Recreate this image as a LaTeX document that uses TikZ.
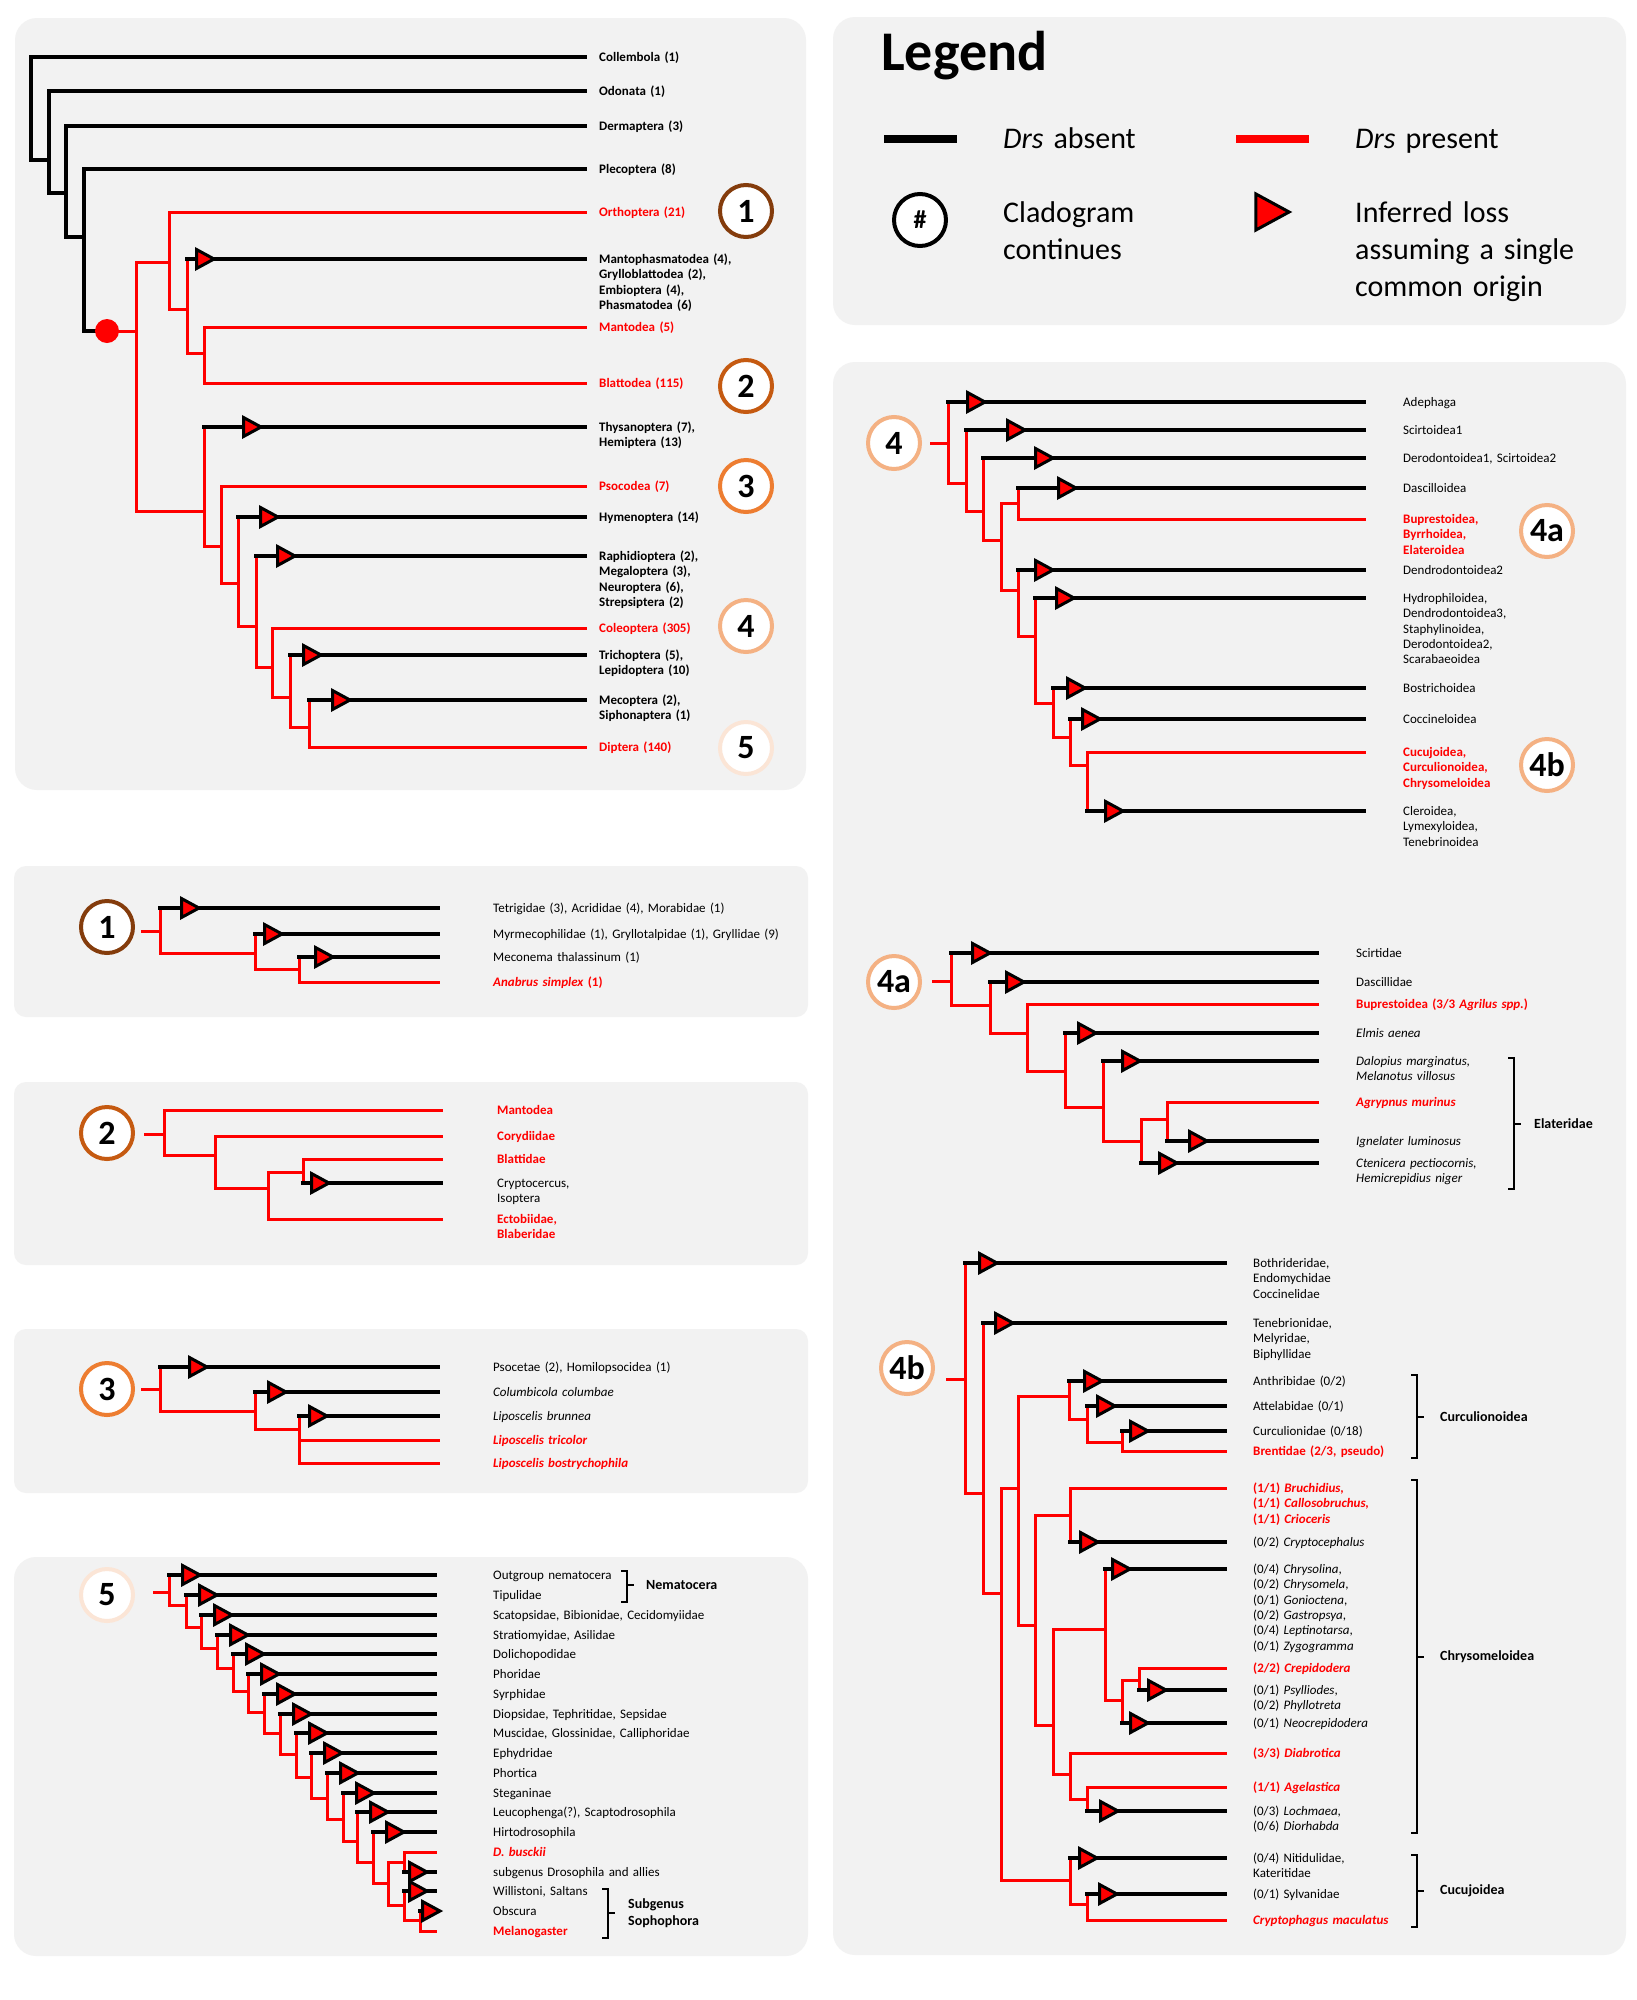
\documentclass[tikz,border=0pt]{standalone}
\usepackage{fontspec}
\setmainfont{Carlito}
\usepackage{xcolor}
\usepackage{tikz}

\definecolor{panelgray}{HTML}{F2F2F2}
\definecolor{drsred}{HTML}{FF0000}
\definecolor{bdgA}{HTML}{843C0C}
\definecolor{bdgB}{HTML}{C55A11}
\definecolor{bdgC}{HTML}{ED7D31}
\definecolor{bdgD}{HTML}{F4B183}
\definecolor{bdgE}{HTML}{FBE5D6}

\begin{document}
\begin{tikzpicture}[
  x=1pt, y=-1pt,
  absent/.style={draw=black, line width=3.2pt, line cap=rect},   % Drs absent
  present/.style={draw=drsred, line width=3pt, line cap=rect},   % Drs present
  lab/.style={anchor=base west, inner sep=0pt, align=left, text width=300pt, yshift=-4.5pt,
              font=\fontsize{13}{15.3}\selectfont},
  labB/.style={lab, font=\fontsize{13}{15.3}\selectfont\bfseries},
  labR/.style={labB, text=drsred},
  badge/.style={circle, draw=#1, fill=white, line width=4pt, minimum size=52pt,
                inner sep=0pt, font=\fontsize{34}{34}\selectfont\bfseries},
  panel/.style={fill=panelgray, rounded corners=#1},
  brk/.style={draw=black, line width=2pt},
  brklab/.style={anchor=west, inner sep=0pt, align=left,
                 font=\fontsize{14}{17}\selectfont\bfseries},
  dot/.style={circle, fill=drsred, minimum size=24pt, inner sep=0pt},
  lgtxt/.style={anchor=base west, inner sep=0pt, align=left, text width=260pt,
                font=\fontsize{30}{37}\selectfont},
  lossfill/.style={fill=drsred, draw=black, line width=3pt, line join=miter},
  loss/.pic={\filldraw[lossfill] (1.5,-9.5) -- (19,0) -- (1.5,9.5) -- cycle;}
]
\useasboundingbox (0,0) rectangle (1636,2000);
\fill[white] (0,0) rectangle (1636,2000);

% panels
\fill[panel=22pt] (15,18) rectangle (806,790);
\fill[panel=22pt] (833,17) rectangle (1626,325);
\fill[panel=22pt] (833,362) rectangle (1626,1955);
\fill[panel=12pt] (14,866) rectangle (808,1017);
\fill[panel=12pt] (14,1082) rectangle (808,1265);
\fill[panel=12pt] (14,1329) rectangle (808,1493);
\fill[panel=22pt] (14,1557) rectangle (808,1956);

%%%%%%%%%%%%%%%% main tree
\coordinate (eT) at (585,0);
\coordinate (tT) at (599,0);
\coordinate (Col) at (31,57);
\coordinate (Odo) at (49,91);
\coordinate (Der) at (66,126);
\coordinate (Ple) at (84,169);
\coordinate (Ort) at (169,212);
\coordinate (Mph) at (187,259);
\coordinate (Mtd) at (204,327);
\coordinate (Bla) at (204,383);
\coordinate (Thy) at (204,427);
\coordinate (Pso) at (221,486);
\coordinate (Hym) at (238,517);
\coordinate (Rap) at (256,556);
\coordinate (Cleo) at (272,628);
\coordinate (Tri) at (290,655);
\coordinate (Mec) at (309,700);
\coordinate (Dip) at (309,747);
\coordinate (j1) at (31,160);
\coordinate (j2) at (49,193);
\coordinate (j3) at (66,237);
\coordinate (j4) at (84,331);
\coordinate (root) at (107,331);
\coordinate (rA) at (136,262);
\coordinate (rB) at (136,511);
\coordinate (j5) at (169,309);
\coordinate (j6) at (187,353);
\coordinate (j7) at (204,546);
\coordinate (j8) at (221,583);
\coordinate (j9) at (238,626);
\coordinate (j10) at (256,667);
\coordinate (j11) at (272,697);
\coordinate (j12) at (290,727);

\draw[absent] (Col) -- (j1) -- (j1 -| Odo);
\draw[absent] (Odo) -- (j2) -- (j2 -| Der);
\draw[absent] (Der) -- (j3) -- (j3 -| Ple);
\draw[absent] (Ple) -- (j4) -- (root);
\draw[present] (root) -- (root -| rA);
\draw[present] (rA -| Ort) -- (rA) -- (rB) -- (rB -| Thy);
\draw[present] (Ort) -- (j5) -- (j5 -| Mph);
\draw[present] (Mph) -- (j6) -- (j6 -| Mtd);
\draw[present] (Mtd) -- (Bla);
\draw[present] (Thy) -- (j7) -- (j7 -| Pso);
\draw[present] (Pso) -- (j8) -- (j8 -| Hym);
\draw[present] (Hym) -- (j9) -- (j9 -| Rap);
\draw[present] (Rap) -- (j10) -- (j10 -| Cleo);
\draw[present] (Cleo) -- (j11) -- (j11 -| Tri);
\draw[present] (Tri) -- (j12) -- (j12 -| Mec);
\draw[present] (Mec) -- (Dip);

\draw[absent] (Col) -- (Col -| eT);
\draw[absent] (Odo) -- (Odo -| eT);
\draw[absent] (Der) -- (Der -| eT);
\draw[absent] (Ple) -- (Ple -| eT);
\draw[present] (Ort) -- (Ort -| eT);
\draw[absent] (Mph) -- (Mph -| eT);
\draw[present] (Mtd) -- (Mtd -| eT);
\draw[present] (Bla) -- (Bla -| eT);
\draw[absent] (Thy) -- (Thy -| eT);
\draw[present] (Pso) -- (Pso -| eT);
\draw[absent] (Hym) -- (Hym -| eT);
\draw[absent] (Rap) -- (Rap -| eT);
\draw[present] (Cleo) -- (Cleo -| eT);
\draw[absent] (Tri) -- (Tri -| eT);
\draw[absent] (Mec) -- (Mec -| eT);
\draw[present] (Dip) -- (Dip -| eT);

\node[dot] (dotT) at (root) {};
\path (Mph) ++(8,0) pic{loss};
\path (Thy) ++(38,0) pic{loss};
\path (Hym) ++(21,0) pic{loss};
\path (Rap) ++(20,0) pic{loss};
\path (Tri) ++(12,0) pic{loss};
\path (Mec) ++(22,0) pic{loss};

\node[labB] (lCol) at (Col -| tT) {Collembola (1)};
\node[labB] (lOdo) at (Odo -| tT) {Odonata (1)};
\node[labB] (lDer) at (Der -| tT) {Dermaptera (3)};
\node[labB] (lPle) at (Ple -| tT) {Plecoptera (8)};
\node[labR] (lOrt) at (Ort -| tT) {Orthoptera (21)};
\node[labB] (lMph) at (Mph -| tT) {Mantophasmatodea (4),\\Grylloblattodea (2),\\Embioptera (4),\\Phasmatodea (6)};
\node[labR] (lMtd) at (Mtd -| tT) {Mantodea (5)};
\node[labR] (lBla) at (Bla -| tT) {Blattodea (115)};
\node[labB] (lThy) at (Thy -| tT) {Thysanoptera (7),\\Hemiptera (13)};
\node[labR] (lPso) at (Pso -| tT) {Psocodea (7)};
\node[labB] (lHym) at (Hym -| tT) {Hymenoptera (14)};
\node[labB] (lRap) at (Rap -| tT) {Raphidioptera (2),\\Megaloptera (3),\\Neuroptera (6),\\Strepsiptera (2)};
\node[labR] (lCleo) at (Cleo -| tT) {Coleoptera (305)};
\node[labB] (lTri) at (Tri -| tT) {Trichoptera (5),\\Lepidoptera (10)};
\node[labB] (lMec) at (Mec -| tT) {Mecoptera (2),\\Siphonaptera (1)};
\node[labR] (lDip) at (Dip -| tT) {Diptera (140)};

\node[badge=bdgA] (bT1) at (746,211) {1};
\node[badge=bdgB] (bT2) at (746,386) {2};
\node[badge=bdgC] (bT3) at (746,486) {3};
\node[badge=bdgD] (bT4) at (746,626) {4};
\node[badge=bdgE] (bT5) at (746,748) {5};

%%%%%%%%%%%%%%%% legend
\node[anchor=base west, inner sep=0pt, font=\fontsize{56}{56}\selectfont\bfseries] (lgHead) at (881,70) {Legend};
\coordinate (lgA1) at (884,139);
\coordinate (lgA2) at (957,139);
\coordinate (lgP1) at (1236,139);
\coordinate (lgP2) at (1309,139);
\draw[absent, line width=8pt, line cap=butt] (lgA1) -- (lgA2);
\draw[present, line width=8pt, line cap=butt] (lgP1) -- (lgP2);
\node[lgtxt] (lgAbs) at (1003,148) {\textit{Drs} absent};
\node[lgtxt] (lgPre) at (1355,148) {\textit{Drs} present};
\node[badge=black, font=\fontsize{26}{26}\selectfont\bfseries] (lgBadge) at (920,220) {\#};
\node[lgtxt] (lgCont) at (1003,222) {Cladogram\\continues};
\path (1253,212) pic[scale=1.9]{loss};
\node[lgtxt] (lgLoss) at (1355,222) {Inferred loss\\assuming a single\\common origin};

%%%%%%%%%%%%%%%% clade 4
\coordinate (e4) at (1364,0);
\coordinate (t4) at (1403,0);
\coordinate (Ade) at (948,402);
\coordinate (Sci) at (966,430);
\coordinate (Drd) at (983,458);
\coordinate (Das) at (1018,488);
\coordinate (Bup) at (1018,519);
\coordinate (Dnd) at (1018,570);
\coordinate (Hyd) at (1035,598);
\coordinate (Bos) at (1053,688);
\coordinate (Coc) at (1070,719);
\coordinate (Cuc) at (1087,752);
\coordinate (Cle) at (1087,811);
\coordinate (k1) at (948,483);
\coordinate (k2) at (966,511);
\coordinate (k3) at (983,540);
\coordinate (k4a) at (1001,503);
\coordinate (k4b) at (1001,590);
\coordinate (k5) at (1018,636);
\coordinate (k6) at (1035,703);
\coordinate (k7) at (1053,737);
\coordinate (k8) at (1070,765);
\coordinate (st4) at (931,443);

\draw[present] (st4) -- (st4 -| Ade);
\draw[present] (Ade) -- (k1) -- (k1 -| Sci);
\draw[present] (Sci) -- (k2) -- (k2 -| Drd);
\draw[present] (Drd) -- (k3) -- (k3 -| k4a);
\draw[present] (k4a -| Das) -- (k4a) -- (k4b) -- (k4b -| Dnd);
\draw[present] (Das) -- (Bup);
\draw[present] (Dnd) -- (k5) -- (k5 -| Hyd);
\draw[present] (Hyd) -- (k6) -- (k6 -| Bos);
\draw[present] (Bos) -- (k7) -- (k7 -| Coc);
\draw[present] (Coc) -- (k8) -- (k8 -| Cuc);
\draw[present] (Cuc) -- (Cle);

\draw[absent] (Ade) -- (Ade -| e4);
\draw[absent] (Sci) -- (Sci -| e4);
\draw[absent] (Drd) -- (Drd -| e4);
\draw[absent] (Das) -- (Das -| e4);
\draw[present] (Bup) -- (Bup -| e4);
\draw[absent] (Dnd) -- (Dnd -| e4);
\draw[absent] (Hyd) -- (Hyd -| e4);
\draw[absent] (Bos) -- (Bos -| e4);
\draw[absent] (Coc) -- (Coc -| e4);
\draw[present] (Cuc) -- (Cuc -| e4);
\draw[absent] (Cle) -- (Cle -| e4);

\path (Ade) ++(18,0) pic{loss};
\path (Sci) ++(40,0) pic{loss};
\path (Drd) ++(51,0) pic{loss};
\path (Das) ++(39,0) pic{loss};
\path (Dnd) ++(16,0) pic{loss};
\path (Hyd) ++(20,0) pic{loss};
\path (Bos) ++(13,0) pic{loss};
\path (Coc) ++(11,0) pic{loss};
\path (Cle) ++(17,0) pic{loss};

\node[lab] (lAde) at (Ade -| t4) {Adephaga};
\node[lab] (lSci) at (Sci -| t4) {Scirtoidea1};
\node[lab] (lDrd) at (Drd -| t4) {Derodontoidea1, Scirtoidea2};
\node[lab] (lDas) at (Das -| t4) {Dascilloidea};
\node[labR] (lBup) at (Bup -| t4) {Buprestoidea,\\Byrrhoidea,\\Elateroidea};
\node[lab] (lDnd) at (Dnd -| t4) {Dendrodontoidea2};
\node[lab] (lHyd) at (Hyd -| t4) {Hydrophiloidea,\\Dendrodontoidea3,\\Staphylinoidea,\\Derodontoidea2,\\Scarabaeoidea};
\node[lab] (lBos) at (Bos -| t4) {Bostrichoidea};
\node[lab] (lCoc) at (Coc -| t4) {Coccineloidea};
\node[labR] (lCuc) at (Cuc -| t4) {Cucujoidea,\\Curculionoidea,\\Chrysomeloidea};
\node[lab] (lCle) at (Cle -| t4) {Cleroidea,\\Lymexyloidea,\\Tenebrinoidea};

\node[badge=bdgD] (c4) at (894,443) {4};
\node[badge=bdgD] (c4a) at (1547,531) {4a};
\node[badge=bdgD] (c4b) at (1547,765) {4b};

%%%%%%%%%%%%%%%% clade 4a
\coordinate (e4a) at (1317,0);
\coordinate (t4a) at (1356,0);
\coordinate (Sct) at (951,953);
\coordinate (Dsc) at (990,982);
\coordinate (Bpr) at (1027,1004);
\coordinate (Elm) at (1065,1033);
\coordinate (Dal) at (1103,1061);
\coordinate (Agr) at (1167,1102);
\coordinate (Ign) at (1167,1141);
\coordinate (Cte) at (1141,1163);
\coordinate (a1) at (951,1005);
\coordinate (a2) at (990,1033);
\coordinate (a3) at (1027,1071);
\coordinate (a4) at (1065,1107);
\coordinate (a5) at (1103,1141);
\coordinate (a6) at (1141,1119);
\coordinate (st4a) at (933,981);

\draw[present] (st4a) -- (st4a -| Sct);
\draw[present] (Sct) -- (a1) -- (a1 -| Dsc);
\draw[present] (Dsc) -- (a2) -- (a2 -| Bpr);
\draw[present] (Bpr) -- (a3) -- (a3 -| Elm);
\draw[present] (Elm) -- (a4) -- (a4 -| Dal);
\draw[present] (Dal) -- (a5) -- (a5 -| Cte);
\draw[present] (a6 -| Agr) -- (a6) -- (Cte);
\draw[present] (Agr) -- (Ign);

\draw[absent] (Sct) -- (Sct -| e4a);
\draw[absent] (Dsc) -- (Dsc -| e4a);
\draw[present] (Bpr) -- (Bpr -| e4a);
\draw[absent] (Elm) -- (Elm -| e4a);
\draw[absent] (Dal) -- (Dal -| e4a);
\draw[present] (Agr) -- (Agr -| e4a);
\draw[absent] (Ign) -- (Ign -| e4a);
\draw[absent] (Cte) -- (Cte -| e4a);

\path (Sct) ++(20,0) pic{loss};
\path (Dsc) ++(15,0) pic{loss};
\path (Elm) ++(12,0) pic{loss};
\path (Dal) ++(18,0) pic{loss};
\path (Ign) ++(21,0) pic{loss};
\path (Cte) ++(17,0) pic{loss};

\node[lab] (lSct) at (Sct -| t4a) {Scirtidae};
\node[lab] (lDsc) at (Dsc -| t4a) {Dascillidae};
\node[labR] (lBpr) at (Bpr -| t4a) {Buprestoidea (3/3 \textit{Agrilus spp.})};
\node[lab] (lElm) at (Elm -| t4a) {\textit{Elmis aenea}};
\node[lab] (lDal) at (Dal -| t4a) {\textit{Dalopius marginatus,}\\\textit{Melanotus villosus}};
\node[labR] (lAgr) at (Agr -| t4a) {\textit{Agrypnus murinus}};
\node[lab] (lIgn) at (Ign -| t4a) {\textit{Ignelater luminosus}};
\node[lab] (lCte) at (Cte -| t4a) {\textit{Ctenicera pectiocornis,}\\\textit{Hemicrepidius niger}};

\coordinate (elT) at (1514,1058);
\coordinate (elB) at (1514,1189);
\coordinate (elM) at (1514,1124);
\draw[brk] (elT) ++(-6,0) -- (elT) -- (elB) -- ++(-6,0);
\draw[brk] (elM) -- ++(7,0);
\node[brklab] (lEla) at ([xshift=20pt]elM) {Elateridae};

\node[badge=bdgD] (c4a2) at (894,982) {4a};

%%%%%%%%%%%%%%%% clade 4b
\coordinate (e4b) at (1225,0);
\coordinate (t4b) at (1253,0);
\coordinate (Bot) at (965,1263);
\coordinate (Ten) at (983,1323);
\coordinate (Ant) at (1069,1381);
\coordinate (Att) at (1087,1406);
\coordinate (Cur) at (1122,1431);
\coordinate (Bre) at (1122,1451);
\coordinate (Bru) at (1070,1488);
\coordinate (Cry) at (1070,1542);
\coordinate (Chr) at (1105,1569);
\coordinate (Cre) at (1139,1668);
\coordinate (Psy) at (1139,1690);
\coordinate (Neo) at (1122,1723);
\coordinate (Dia) at (1070,1753);
\coordinate (Age) at (1087,1787);
\coordinate (Loc) at (1087,1811);
\coordinate (Nit) at (1070,1858);
\coordinate (Syl) at (1087,1894);
\coordinate (Crp) at (1087,1920);
\coordinate (b1) at (965,1493);
\coordinate (b2) at (983,1593);
\coordinate (b3) at (1001,1488);
\coordinate (b4) at (1001,1880);
\coordinate (b5) at (1018,1396);
\coordinate (b6) at (1018,1625);
\coordinate (b7) at (1069,1419);
\coordinate (b8) at (1087,1442);
\coordinate (b9) at (1035,1515);
\coordinate (b10) at (1035,1725);
\coordinate (b11) at (1053,1629);
\coordinate (b12) at (1053,1774);
\coordinate (b13) at (1105,1700);
\coordinate (b14) at (1122,1680);
\coordinate (b15) at (1070,1799);
\coordinate (b16) at (1070,1904);
\coordinate (st4b) at (947,1379);

\draw[present] (st4b) -- (st4b -| Bot);
\draw[present] (Bot) -- (b1) -- (b1 -| Ten);
\draw[present] (Ten) -- (b2) -- (b2 -| b3);
\draw[present] (b3) -- (b4) -- (b4 -| Nit);
\draw[present] (b3) -- (b3 -| b5);
\draw[present] (b5 -| Ant) -- (b5) -- (b6) -- (b6 -| b9);
\draw[present] (Ant) -- (b7) -- (b7 -| Att);
\draw[present] (Att) -- (b8) -- (b8 -| Cur);
\draw[present] (Cur) -- (Bre);
\draw[present] (b9 -| Bru) -- (b9) -- (b10) -- (b10 -| b11);
\draw[present] (Bru) -- (Cry);
\draw[present] (b11 -| Chr) -- (b11) -- (b12) -- (b12 -| Dia);
\draw[present] (Chr) -- (b13) -- (b13 -| Neo);
\draw[present] (b14 -| Cre) -- (b14) -- (Neo);
\draw[present] (Cre) -- (Psy);
\draw[present] (Dia) -- (b15) -- (b15 -| Age);
\draw[present] (Age) -- (Loc);
\draw[present] (Nit) -- (b16) -- (b16 -| Syl);
\draw[present] (Syl) -- (Crp);

\draw[absent] (Bot) -- (Bot -| e4b);
\draw[absent] (Ten) -- (Ten -| e4b);
\draw[absent] (Ant) -- (Ant -| e4b);
\draw[absent] (Att) -- (Att -| e4b);
\draw[absent] (Cur) -- (Cur -| e4b);
\draw[present] (Bre) -- (Bre -| e4b);
\draw[present] (Bru) -- (Bru -| e4b);
\draw[absent] (Cry) -- (Cry -| e4b);
\draw[absent] (Chr) -- (Chr -| e4b);
\draw[present] (Cre) -- (Cre -| e4b);
\draw[absent] (Psy) -- (Psy -| e4b);
\draw[absent] (Neo) -- (Neo -| e4b);
\draw[present] (Dia) -- (Dia -| e4b);
\draw[present] (Age) -- (Age -| e4b);
\draw[absent] (Loc) -- (Loc -| e4b);
\draw[absent] (Nit) -- (Nit -| e4b);
\draw[absent] (Syl) -- (Syl -| e4b);
\draw[present] (Crp) -- (Crp -| e4b);

\path (Bot) ++(13,0) pic{loss};
\path (Ten) ++(11,0) pic{loss};
\path (Ant) ++(14,0) pic{loss};
\path (Att) ++(9,0) pic{loss};
\path (Cur) ++(7,0) pic{loss};
\path (Cry) ++(9,0) pic{loss};
\path (Chr) ++(6,0) pic{loss};
\path (Psy) ++(8,0) pic{loss};
\path (Neo) ++(7,0) pic{loss};
\path (Loc) ++(12,0) pic{loss};
\path (Nit) ++(8,0) pic{loss};
\path (Syl) ++(11,0) pic{loss};

\node[lab] (lBot) at (Bot -| t4b) {Bothrideridae,\\Endomychidae\\Coccinelidae};
\node[lab] (lTen) at (Ten -| t4b) {Tenebrionidae,\\Melyridae,\\Biphyllidae};
\node[lab] (lAnt) at (Ant -| t4b) {Anthribidae (0/2)};
\node[lab] (lAtt) at (Att -| t4b) {Attelabidae (0/1)};
\node[lab] (lCur) at (Cur -| t4b) {Curculionidae (0/18)};
\node[labR] (lBre) at (Bre -| t4b) {Brentidae (2/3, pseudo)};
\node[labR] (lBru) at (Bru -| t4b) {(1/1) \textit{Bruchidius,}\\(1/1) \textit{Callosobruchus,}\\(1/1) \textit{Crioceris}};
\node[lab] (lCry) at (Cry -| t4b) {(0/2) \textit{Cryptocephalus}};
\node[lab] (lChr) at (Chr -| t4b) {(0/4) \textit{Chrysolina},\\(0/2) \textit{Chrysomela},\\(0/1) \textit{Gonioctena},\\(0/2) \textit{Gastropsya},\\(0/4) \textit{Leptinotarsa},\\(0/1) \textit{Zygogramma}};
\node[labR] (lCre) at (Cre -| t4b) {(2/2) \textit{Crepidodera}};
\node[lab] (lPsy) at (Psy -| t4b) {(0/1) \textit{Psylliodes},\\(0/2) \textit{Phyllotreta}};
\node[lab] (lNeo) at (Neo -| t4b) {(0/1) \textit{Neocrepidodera}};
\node[labR] (lDia) at (Dia -| t4b) {(3/3) \textit{Diabrotica}};
\node[labR] (lAge) at (Age -| t4b) {(1/1) \textit{Agelastica}};
\node[lab] (lLoc) at (Loc -| t4b) {(0/3) \textit{Lochmaea},\\(0/6) \textit{Diorhabda}};
\node[lab] (lNit) at (Nit -| t4b) {(0/4) Nitidulidae,\\Kateritidae};
\node[lab] (lSyl) at (Syl -| t4b) {(0/1) Sylvanidae};
\node[labR] (lCrp) at (Crp -| t4b) {\textit{Cryptophagus maculatus}};

\coordinate (cuT) at (1417,1375);
\coordinate (cuB) at (1417,1458);
\coordinate (cuM) at (1417,1417);
\coordinate (chT) at (1417,1480);
\coordinate (chB) at (1417,1833);
\coordinate (chM) at (1417,1657);
\coordinate (cjT) at (1417,1855);
\coordinate (cjB) at (1417,1927);
\coordinate (cjM) at (1417,1891);
\draw[brk] (cuT) ++(-6,0) -- (cuT) -- (cuB) -- ++(-6,0);
\draw[brk] (cuM) -- ++(7,0);
\draw[brk] (chT) ++(-6,0) -- (chT) -- (chB) -- ++(-6,0);
\draw[brk] (chM) -- ++(7,0);
\draw[brk] (cjT) ++(-6,0) -- (cjT) -- (cjB) -- ++(-6,0);
\draw[brk] (cjM) -- ++(7,0);
\node[brklab] (lCu) at ([xshift=23pt]cuM) {Curculionoidea};
\node[brklab] (lCh) at ([xshift=23pt]chM) {Chrysomeloidea};
\node[brklab] (lCj) at ([xshift=23pt]cjM) {Cucujoidea};

\node[badge=bdgD] (c4b2) at (907,1368) {4b};

%%%%%%%%%%%%%%%% clade 1
\coordinate (e1) at (438,0);
\coordinate (t1) at (493,0);
\coordinate (Tet) at (160,908);
\coordinate (Myr) at (255,934);
\coordinate (Mcn) at (299,957);
\coordinate (Ana) at (299,982);
\coordinate (p1) at (160,953);
\coordinate (p2) at (255,969);
\coordinate (st1) at (142,931);

\draw[present] (st1) -- (st1 -| Tet);
\draw[present] (Tet) -- (p1) -- (p1 -| Myr);
\draw[present] (Myr) -- (p2) -- (p2 -| Mcn);
\draw[present] (Mcn) -- (Ana);
\draw[absent] (Tet) -- (Tet -| e1);
\draw[absent] (Myr) -- (Myr -| e1);
\draw[absent] (Mcn) -- (Mcn -| e1);
\draw[present] (Ana) -- (Ana -| e1);
\path (Tet) ++(20,0) pic{loss};
\path (Myr) ++(8,0) pic{loss};
\path (Mcn) ++(15,0) pic{loss};
\node[lab] (lTet) at (Tet -| t1) {Tetrigidae (3), Acrididae (4), Morabidae (1)};
\node[lab] (lMyr) at (Myr -| t1) {Myrmecophilidae (1), Gryllotalpidae (1), Gryllidae (9)};
\node[lab] (lMcn) at (Mcn -| t1) {Meconema thalassinum (1)};
\node[labR] (lAna) at (Ana -| t1) {\textit{Anabrus simplex} (1)};
\node[badge=bdgA] (c1) at (107,927) {1};

%%%%%%%%%%%%%%%% clade 2
\coordinate (e2) at (441,0);
\coordinate (t2) at (497,0);
\coordinate (Man) at (164,1110);
\coordinate (Cor) at (215,1136);
\coordinate (Blt) at (303,1159);
\coordinate (Cpc) at (303,1183);
\coordinate (Ect) at (268,1219);
\coordinate (q1) at (164,1155);
\coordinate (q2) at (215,1188);
\coordinate (q3) at (268,1172);
\coordinate (st2) at (145,1134);

\draw[present] (st2) -- (st2 -| Man);
\draw[present] (Man) -- (q1) -- (q1 -| Cor);
\draw[present] (Cor) -- (q2) -- (q2 -| Ect);
\draw[present] (q3 -| Blt) -- (q3) -- (Ect);
\draw[present] (Blt) -- (Cpc);
\draw[present] (Man) -- (Man -| e2);
\draw[present] (Cor) -- (Cor -| e2);
\draw[present] (Blt) -- (Blt -| e2);
\draw[absent] (Cpc) -- (Cpc -| e2);
\draw[present] (Ect) -- (Ect -| e2);
\path (Cpc) ++(7,0) pic{loss};
\node[labR] (lMan) at (Man -| t2) {Mantodea};
\node[labR] (lCor) at (Cor -| t2) {Corydiidae};
\node[labR] (lBlt) at (Blt -| t2) {Blattidae};
\node[lab] (lCpc) at (Cpc -| t2) {Cryptocercus,\\Isoptera};
\node[labR] (lEct) at (Ect -| t2) {Ectobiidae,\\Blaberidae};
\node[badge=bdgB] (c2) at (107,1133) {2};

%%%%%%%%%%%%%%%% clade 3
\coordinate (e3) at (438,0);
\coordinate (t3) at (493,0);
\coordinate (Psc) at (160,1367);
\coordinate (Clm) at (255,1392);
\coordinate (Lbr) at (299,1416);
\coordinate (Ltr) at (299,1440);
\coordinate (Lbo) at (299,1463);
\coordinate (r1) at (160,1411);
\coordinate (r2) at (255,1429);
\coordinate (st3) at (142,1389);

\draw[present] (st3) -- (st3 -| Psc);
\draw[present] (Psc) -- (r1) -- (r1 -| Clm);
\draw[present] (Clm) -- (r2) -- (r2 -| Lbr);
\draw[present] (Lbr) -- (Lbo);
\draw[absent] (Psc) -- (Psc -| e3);
\draw[absent] (Clm) -- (Clm -| e3);
\draw[absent] (Lbr) -- (Lbr -| e3);
\draw[present] (Ltr) -- (Ltr -| e3);
\draw[present] (Lbo) -- (Lbo -| e3);
\path (Psc) ++(28,0) pic{loss};
\path (Clm) ++(12,0) pic{loss};
\path (Lbr) ++(9,0) pic{loss};
\node[lab] (lPsc) at (Psc -| t3) {Psocetae (2), Homilopsocidea (1)};
\node[lab] (lClm) at (Clm -| t3) {\textit{Columbicola columbae}};
\node[lab] (lLbr) at (Lbr -| t3) {\textit{Liposcelis brunnea}};
\node[labR] (lLtr) at (Ltr -| t3) {\textit{Liposcelis tricolor}};
\node[labR] (lLbo) at (Lbo -| t3) {\textit{Liposcelis bostrychophila}};
\node[badge=bdgC] (c3) at (107,1389) {3};

%%%%%%%%%%%%%%%% clade 5
\coordinate (e5) at (435,0);
\coordinate (t5) at (493,0);
\coordinate (f1) at (169,1575);
\coordinate (f2) at (186,1595);
\coordinate (f3) at (201,1615);
\coordinate (f4) at (217,1635);
\coordinate (f5) at (233,1654);
\coordinate (f6) at (248,1674);
\coordinate (f7) at (264,1694);
\coordinate (f8) at (280,1714);
\coordinate (f9) at (296,1733);
\coordinate (f10) at (311,1753);
\coordinate (f11) at (327,1773);
\coordinate (f12) at (343,1793);
\coordinate (f13) at (357,1812);
\coordinate (f14) at (373,1832);
\coordinate (f15) at (404,1852);
\coordinate (f16) at (404,1872);
\coordinate (f17) at (404,1891);
\coordinate (f18) at (420,1911);
\coordinate (f19) at (420,1931);
\coordinate (s1) at (169,1605);
\coordinate (s2) at (186,1627);
\coordinate (s3) at (201,1648);
\coordinate (s4) at (217,1668);
\coordinate (s5) at (233,1691);
\coordinate (s6) at (248,1712);
\coordinate (s7) at (264,1733);
\coordinate (s8) at (280,1754);
\coordinate (s9) at (296,1777);
\coordinate (s10) at (311,1798);
\coordinate (s11) at (327,1819);
\coordinate (s12) at (343,1841);
\coordinate (s13) at (357,1862);
\coordinate (s14) at (373,1883);
\coordinate (v15a) at (388,1862);
\coordinate (v15b) at (388,1905);
\coordinate (w17) at (404,1920);
\coordinate (st5) at (154,1592);

\draw[present] (st5) -- (st5 -| f1);
\draw[present] (f1) -- (s1) -- (s1 -| f2);
\draw[present] (f2) -- (s2) -- (s2 -| f3);
\draw[present] (f3) -- (s3) -- (s3 -| f4);
\draw[present] (f4) -- (s4) -- (s4 -| f5);
\draw[present] (f5) -- (s5) -- (s5 -| f6);
\draw[present] (f6) -- (s6) -- (s6 -| f7);
\draw[present] (f7) -- (s7) -- (s7 -| f8);
\draw[present] (f8) -- (s8) -- (s8 -| f9);
\draw[present] (f9) -- (s9) -- (s9 -| f10);
\draw[present] (f10) -- (s10) -- (s10 -| f11);
\draw[present] (f11) -- (s11) -- (s11 -| f12);
\draw[present] (f12) -- (s12) -- (s12 -| f13);
\draw[present] (f13) -- (s13) -- (s13 -| f14);
\draw[present] (f14) -- (s14) -- (s14 -| v15a);
\draw[present] (v15a -| f15) -- (v15a) -- (v15b) -- (v15b -| f17);
\draw[present] (f15) -- (f16);
\draw[present] (f17) -- (w17) -- (w17 -| f18);
\draw[present] (f18) -- (f19);

\draw[absent] (f1) -- (f1 -| e5);
\draw[absent] (f2) -- (f2 -| e5);
\draw[absent] (f3) -- (f3 -| e5);
\draw[absent] (f4) -- (f4 -| e5);
\draw[absent] (f5) -- (f5 -| e5);
\draw[absent] (f6) -- (f6 -| e5);
\draw[absent] (f7) -- (f7 -| e5);
\draw[absent] (f8) -- (f8 -| e5);
\draw[absent] (f9) -- (f9 -| e5);
\draw[absent] (f10) -- (f10 -| e5);
\draw[absent] (f11) -- (f11 -| e5);
\draw[absent] (f12) -- (f12 -| e5);
\draw[absent] (f13) -- (f13 -| e5);
\draw[absent] (f14) -- (f14 -| e5);
\draw[present] (f15) -- (f15 -| e5);
\draw[absent] (f16) -- (f16 -| e5);
\draw[absent] (f17) -- (f17 -| e5);
\draw[absent] (f18) -- (f18 -| e5);
\draw[present] (f19) -- (f19 -| e5);

\path (f1) ++(12,0) pic{loss};
\path (f2) ++(12,0) pic{loss};
\path (f3) ++(12,0) pic{loss};
\path (f4) ++(12,0) pic{loss};
\path (f5) ++(12,0) pic{loss};
\path (f6) ++(12,0) pic{loss};
\path (f7) ++(12,0) pic{loss};
\path (f8) ++(12,0) pic{loss};
\path (f9) ++(12,0) pic{loss};
\path (f10) ++(12,0) pic{loss};
\path (f11) ++(12,0) pic{loss};
\path (f12) ++(12,0) pic{loss};
\path (f13) ++(12,0) pic{loss};
\path (f14) ++(12,0) pic{loss};
\path (f16) ++(4,0) pic{loss};
\path (f17) ++(4,0) pic{loss};
\path (f18) ++(1,0) pic{loss};

\node[lab] (lf1) at (f1 -| t5) {Outgroup nematocera};
\node[lab] (lf2) at (f2 -| t5) {Tipulidae};
\node[lab] (lf3) at (f3 -| t5) {Scatopsidae, Bibionidae, Cecidomyiidae};
\node[lab] (lf4) at (f4 -| t5) {Stratiomyidae, Asilidae};
\node[lab] (lf5) at (f5 -| t5) {Dolichopodidae};
\node[lab] (lf6) at (f6 -| t5) {Phoridae};
\node[lab] (lf7) at (f7 -| t5) {Syrphidae};
\node[lab] (lf8) at (f8 -| t5) {Diopsidae, Tephritidae, Sepsidae};
\node[lab] (lf9) at (f9 -| t5) {Muscidae, Glossinidae, Calliphoridae};
\node[lab] (lf10) at (f10 -| t5) {Ephydridae};
\node[lab] (lf11) at (f11 -| t5) {Phortica};
\node[lab] (lf12) at (f12 -| t5) {Steganinae};
\node[lab] (lf13) at (f13 -| t5) {Leucophenga(?), Scaptodrosophila};
\node[lab] (lf14) at (f14 -| t5) {Hirtodrosophila};
\node[labR] (lf15) at (f15 -| t5) {\textit{D. busckii}};
\node[lab] (lf16) at (f16 -| t5) {subgenus Drosophila and allies};
\node[lab] (lf17) at (f17 -| t5) {Willistoni, Saltans};
\node[lab] (lf18) at (f18 -| t5) {Obscura};
\node[labR] (lf19) at (f19 -| t5) {Melanogaster};

\coordinate (neT) at (627,1571);
\coordinate (neB) at (627,1602);
\coordinate (neM) at (627,1585);
\coordinate (soT) at (608,1889);
\coordinate (soB) at (608,1938);
\coordinate (soM) at (608,1913);
\draw[brk] (neT) ++(-6,0) -- (neT) -- (neB) -- ++(-6,0);
\draw[brk] (neM) -- ++(7,0);
\draw[brk] (soT) ++(-6,0) -- (soT) -- (soB) -- ++(-6,0);
\draw[brk] (soM) -- ++(7,0);
\node[brklab] (lNem) at ([xshift=19pt]neM) {Nematocera};
\node[brklab] (lSop) at ([xshift=20pt]soM) {Subgenus\\Sophophora};

\node[badge=bdgE] (c5) at (107,1595) {5};
\end{tikzpicture}
\end{document}
